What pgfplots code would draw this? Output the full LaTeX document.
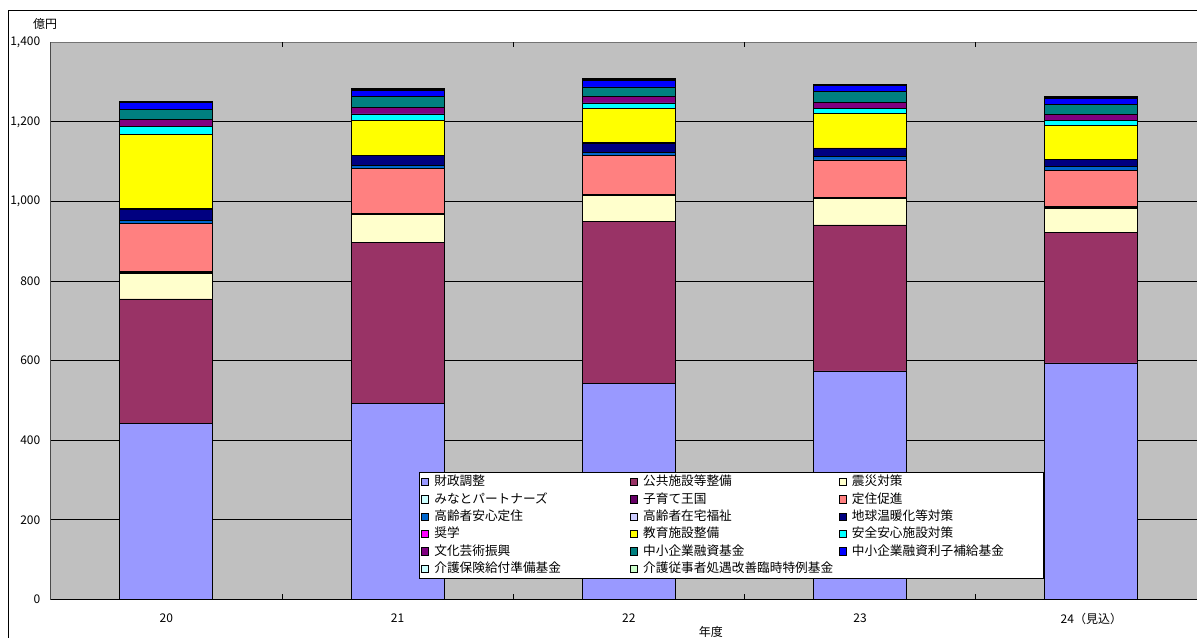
\documentclass[border=0pt]{standalone}
\usepackage{fontspec}
\setmainfont{Noto Sans CJK JP}
\usepackage{pgfplots}
\pgfplotsset{compat=1.18}
\usepackage{pgfplotstable}

% fund colours
\definecolor{cZaisei}{HTML}{9999FF}
\definecolor{cKoukyou}{HTML}{993366}
\definecolor{cShinsai}{HTML}{FFFFCC}
\definecolor{cMinato}{HTML}{CCFFFF}
\definecolor{cKosodate}{HTML}{660066}
\definecolor{cTeiju}{HTML}{FF8080}
\definecolor{cAnshin}{HTML}{0066CC}
\definecolor{cZaitaku}{HTML}{CCCCFF}
\definecolor{cOndanka}{HTML}{000080}
\definecolor{cShougaku}{HTML}{FF00FF}
\definecolor{cKyouiku}{HTML}{FFFF00}
\definecolor{cAnzen}{HTML}{00FFFF}
\definecolor{cBunka}{HTML}{800080}
\definecolor{cYushi}{HTML}{008080}
\definecolor{cRishi}{HTML}{0000FF}
\definecolor{cKaigo}{HTML}{CCFFFF}
\definecolor{cJuji}{HTML}{CCFFCC}
\definecolor{plotgrey}{HTML}{C0C0C0}

% fund balances by fiscal year (100 million yen)
\pgfplotstableread{
idx zaisei koukyou shinsai minato kosodate teiju anshin zaitaku ondanka shougaku kyouiku anzen bunka yushi rishi kaigo juji
0   441    314     65      1      3        120   8.3    0.5     28.2    0.5      186.2   21.6  16.8  25.2  18.4  2.5   0
1   492    406     69      0.5    2        113   7.5    0.5     25      0.5      86.5    17.5  17    26    15    3     3
2   543    407     65      1      2.5      96.4  8.3    0.5     23      0.5      85.5    15    16.6  23.6  16    2     4
3   574    367     66      1      2.3      94    9      0.5     20.3    0.5      85.5    12.6  16.6  26.2  15.8  1     1.5
4   594    329     60      1      3        91.5  9      0.5     18      0.5      83.8    14.3  15    25.2  15    2     2
}\budget

\pgfplotsset{
  seg/.style={fill=#1, draw=black, line width=0.6pt,
    legend image code/.code={\draw[fill=#1, draw=black, line width=0.5pt] (0pt,-2.75pt) rectangle (5.5pt,2.75pt);}},
}
% legend labels: the first two columns share one width, the last is a bit narrower
\newcommand{\legtext}[1]{\makebox[148.6pt][l]{\hspace{3pt}#1}}
\newcommand{\legtextlast}[1]{\makebox[144.5pt][l]{\hspace{3pt}#1}}

\begin{document}
\begin{tikzpicture}
\useasboundingbox (0,0) rectangle (897.75pt,-477.75pt);
\clip (0,0) rectangle (897.75pt,-477.75pt);
\fill[white] (0,0) rectangle (897.75pt,-477.75pt);
\draw[black, line width=0.75pt] (6pt,-520pt) -- (6pt,-7.5pt) -- (950pt,-7.5pt);
\node[font=\fontsize{9pt}{10pt}\selectfont, inner sep=0pt] at (33.75pt,-18pt) {億円};
\begin{axis}[
  at={(38.03pt,-449.48pt)}, anchor=south west,
  width=867.2pt, height=417.75pt, scale only axis,
  xmin=-0.5, xmax=4.5, ymin=0, ymax=1400,
  ybar stacked, bar width=69.75pt,
  axis background/.style={fill=plotgrey},
  axis line style={draw=black!55, line width=0.75pt},
  ytick={0,200,...,1400},
  ymajorgrids, major grid style={black, line width=0.6pt},
  tick align=inside,
  ytick style={draw=none},
  xtick={0,1,2,3,4},
  xticklabels={20,21,22,23,24（見込）},
  xtick style={draw=none},
  extra x ticks={0.5,1.5,2.5,3.5},
  extra x tick labels={},
  extra x tick style={xtick style={draw=black, line width=0.6pt}, major tick length=3.75pt},
  tick label style={font=\fontsize{9pt}{10pt}\selectfont},
  /pgf/number format/1000 sep={,},
  /pgf/number format/assume math mode=true,
  yticklabel style={xshift=-4.3pt},
  xticklabel style={yshift=-7pt},
  xlabel={年度},
  xlabel style={at={(rel axis cs:0.571,0)}, anchor=center, yshift=-24.75pt, font=\fontsize{9pt}{10pt}\selectfont},
  legend columns=3,
  legend cell align=left,
  legend style={at={(0.3185,0.2280)}, anchor=north west, draw=black, line width=0.6pt,
    fill=white, inner sep=1.25pt, font=\fontsize{9.5pt}{11pt}\selectfont, row sep=1.5pt,
    nodes={inner sep=1pt, text height=7.5pt, text depth=2pt}},
]
\addplot[seg=cZaisei]   table[x=idx, y=zaisei]   {\budget}; \addlegendentry{\legtext{財政調整}}
\addplot[seg=cKoukyou]  table[x=idx, y=koukyou]  {\budget}; \addlegendentry{\legtext{公共施設等整備}}
\addplot[seg=cShinsai]  table[x=idx, y=shinsai]  {\budget}; \addlegendentry{\legtextlast{震災対策}}
\addplot[seg=cMinato]   table[x=idx, y=minato]   {\budget}; \addlegendentry{\legtext{みなとパートナーズ}}
\addplot[seg=cKosodate] table[x=idx, y=kosodate] {\budget}; \addlegendentry{\legtext{子育て王国}}
\addplot[seg=cTeiju]    table[x=idx, y=teiju]    {\budget}; \addlegendentry{\legtextlast{定住促進}}
\addplot[seg=cAnshin]   table[x=idx, y=anshin]   {\budget}; \addlegendentry{\legtext{高齢者安心定住}}
\addplot[seg=cZaitaku]  table[x=idx, y=zaitaku]  {\budget}; \addlegendentry{\legtext{高齢者在宅福祉}}
\addplot[seg=cOndanka]  table[x=idx, y=ondanka]  {\budget}; \addlegendentry{\legtextlast{地球温暖化等対策}}
\addplot[seg=cShougaku] table[x=idx, y=shougaku] {\budget}; \addlegendentry{\legtext{奨学}}
\addplot[seg=cKyouiku]  table[x=idx, y=kyouiku]  {\budget}; \addlegendentry{\legtext{教育施設整備}}
\addplot[seg=cAnzen]    table[x=idx, y=anzen]    {\budget}; \addlegendentry{\legtextlast{安全安心施設対策}}
\addplot[seg=cBunka]    table[x=idx, y=bunka]    {\budget}; \addlegendentry{\legtext{文化芸術振興}}
\addplot[seg=cYushi]    table[x=idx, y=yushi]    {\budget}; \addlegendentry{\legtext{中小企業融資基金}}
\addplot[seg=cRishi]    table[x=idx, y=rishi]    {\budget}; \addlegendentry{\legtextlast{中小企業融資利子補給基金}}
\addplot[seg=cKaigo]    table[x=idx, y=kaigo]    {\budget}; \addlegendentry{\legtext{介護保険給付準備基金}}
\addplot[seg=cJuji]     table[x=idx, y=juji]     {\budget}; \addlegendentry{\legtext{介護従事者処遇改善臨時特例基金}}
\draw[black, line width=0.75pt] (rel axis cs:0,1) -- (rel axis cs:0,0) -- (rel axis cs:1,0);
\end{axis}
\end{tikzpicture}
\end{document}
